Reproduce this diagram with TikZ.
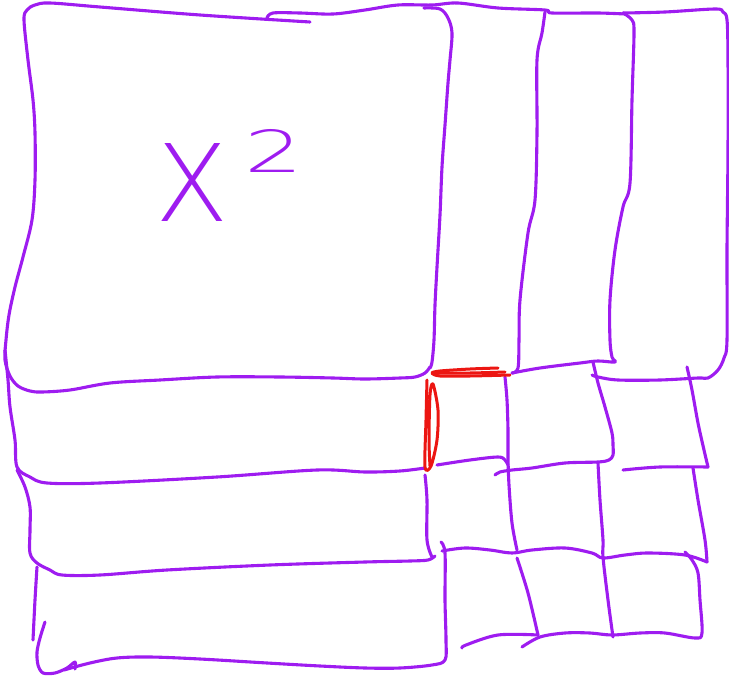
\documentclass[tikz,border=0pt]{standalone}
\usepackage{fontspec}
\newfontfamily\handfont{DejaVuSans-ExtraLight.ttf}
\definecolor{pur}{RGB}{158,28,240}
\definecolor{redink}{RGB}{236,22,18}
\tikzset{
  pen/.style={draw=pur, line width=3.1pt, line cap=round, line join=round},
  redpen/.style={draw=redink, line width=3pt, line cap=round, line join=round},
  lbl/.style={text=pur, inner sep=0pt, anchor=center}
}
\begin{document}
\begin{tikzpicture}[x=1pt,y=-1pt]
\useasboundingbox (0,0) rectangle (729,677);
% big square: top, left, bottom
\draw[pen] plot[smooth,tension=0.55] coordinates {(310,22) (200,15) (100,7) (50,3) (35,5) (27,10) (24,20) (28,60) (33,100) (35,133) (35,180) (32,220) (23,257) (15,287) (9,315) (6,340) (5,360) (10,376) (18,386) (30,391) (42,392) (70,390) (110,383) (160,380) (217,377) (280,377) (333,378) (365,379) (400,378) (415,377) (425,373) (430,367)};
% right side of big square
\draw[pen] plot[smooth,tension=0.55] coordinates {(424,8) (440,9) (448,18) (452,33) (450,60) (448,83) (445,125) (442,167) (440,215) (437,267) (435,305) (434,340) (432,362) (430,368)};
% top edge across the columns
\draw[pen] plot[smooth,tension=0.55] coordinates {(267,18) (273,13) (300,13) (333,14) (365,10) (398,5) (432,5) (458,3) (498,8) (545,10) (552,13) (598,13) (625,14)};
\draw[pen] plot[smooth,tension=0.55] coordinates {(623,13) (665,12) (715,9) (723,12) (727,20) (728,60) (728,150) (727,250) (727,340) (724,358) (718,370) (708,378) (698,378) (660,380) (618,380) (598,377) (592,375)};
% column 2
\draw[pen] plot[smooth,tension=0.55] coordinates {(545,12) (542,33) (537,60) (537,133) (535,200) (528,233) (520,300) (519,340) (518,368) (512,373)};
% column 3 and the short row line
\draw[pen] plot[smooth,tension=0.55] coordinates {(623,13) (632,20) (634,33) (632,100) (630,183) (623,207) (615,250) (610,300) (610,340) (612,357) (615,362) (598,361) (580,363) (540,368) (512,373)};
% left column continuation and row lines
\draw[pen] plot[smooth,tension=0.55] coordinates {(5,350) (8,380) (10,407) (15,440) (17,467) (30,477) (47,483) (100,483) (217,477) (317,470) (365,472) (400,471) (425,468)};
\draw[pen] plot[smooth,tension=0.55] coordinates {(17,470) (25,487) (30,507) (30,530) (30,553) (37,563) (50,570) (62,575) (100,575) (167,570) (270,565) (365,562) (410,561) (428,560) (435,556)};
\draw[pen] plot[smooth,tension=0.55] coordinates {(37,567) (35,600) (33,640)};
\draw[pen] plot[smooth,tension=0.5] coordinates {(45,622) (40,638) (37,652) (38,665) (43,673) (55,673) (67,668) (75,662) (75,669)};
\draw[pen] plot[smooth,tension=0.55] coordinates {(64,670) (90,663) (117,658) (150,657) (200,659) (267,663) (320,666) (365,668) (400,668) (432,665) (445,660) (446,640) (445,600) (445,553) (441,542)};
% grid below the right columns
\draw[pen] plot[smooth,tension=0.55] coordinates {(505,377) (507,400) (508,430) (508,457) (509,485) (512,523) (517,550)};
\draw[pen] plot[smooth,tension=0.55] coordinates {(517,558) (528,593) (538,635)};
\draw[pen] plot[smooth,tension=0.55] coordinates {(437,465) (470,460) (498,457) (505,460) (508,465)};
\draw[pen] plot[smooth,tension=0.55] coordinates {(593,362) (598,383) (605,407) (612,433) (613,445) (613,455) (609,460) (598,462) (565,463) (532,468) (512,470) (500,472) (495,475)};
\draw[pen] plot[smooth,tension=0.55] coordinates {(598,463) (600,500) (603,540) (603,557) (608,600) (613,637)};
\draw[pen] plot[smooth,tension=0.55] coordinates {(623,470) (660,467) (708,467)};
\draw[pen] plot[smooth,tension=0.55] coordinates {(687,367) (692,390) (698,423) (704,450) (708,467)};
\draw[pen] plot[smooth,tension=0.55] coordinates {(693,468) (698,500) (705,540) (707,562)};
\draw[pen] plot[smooth,tension=0.55] coordinates {(425,475) (427,500) (427,540) (432,557)};
\draw[pen] plot[smooth,tension=0.55] coordinates {(442,551) (465,548) (490,550) (512,553) (532,550) (565,548) (592,553) (603,558) (625,555) (648,553) (685,555) (707,562)};
\draw[pen] plot[smooth,tension=0.55] coordinates {(685,552) (692,560) (698,573) (700,600) (702,633) (695,638) (665,633) (640,633) (612,635) (590,633) (565,633) (540,637) (522,647)};
\draw[pen] plot[smooth,tension=0.55] coordinates {(462,648) (466,645) (498,635) (538,635)};
% red highlighted corner
\draw[redpen] plot[smooth,tension=0.5] coordinates {(498,368) (470,369) (440,371) (432,373) (440,376) (470,376) (510,375)};
\draw[redpen] plot[smooth,tension=0.5] coordinates {(433,373) (470,373) (505,372)};
\draw[redpen] plot[smooth,tension=0.5] coordinates {(427,380) (426,420) (425,467) (431,466) (437,440) (438,410) (433,384) (430,395) (429,440) (430,466)};
% label
\node[lbl] (x) at (192,182) {\handfont\fontsize{107}{107}\selectfont X};
\node[lbl, xscale=1.6] (two) at (274,151) {\handfont\fontsize{58}{58}\selectfont 2};
\end{tikzpicture}
\end{document}
